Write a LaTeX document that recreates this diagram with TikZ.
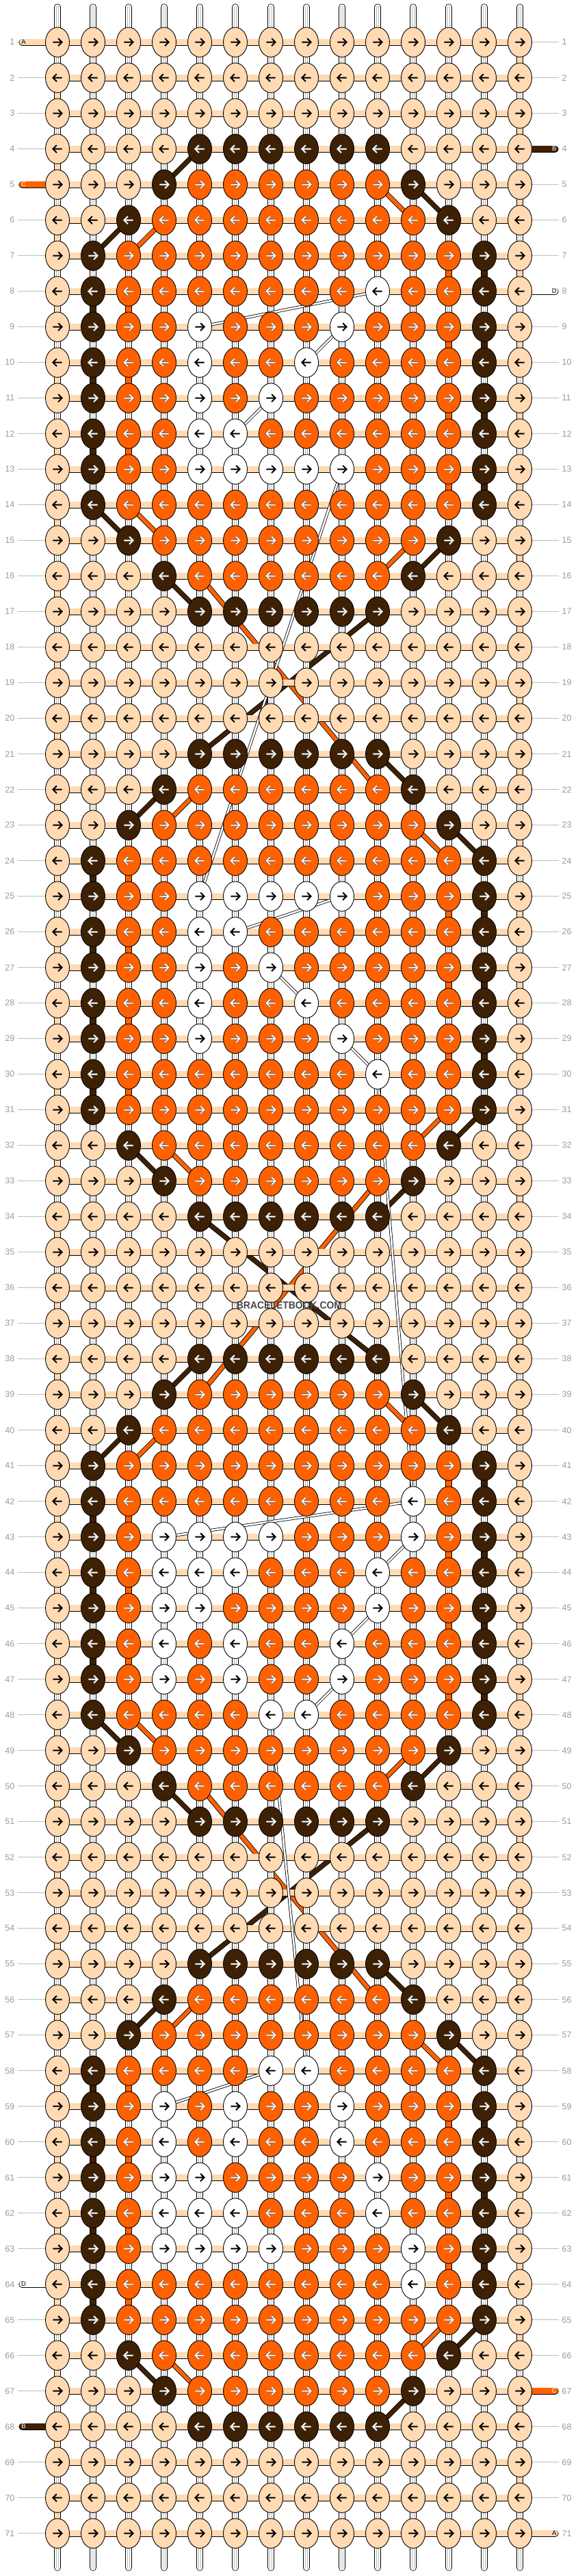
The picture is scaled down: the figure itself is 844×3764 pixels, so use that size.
\documentclass[tikz,border=0pt]{standalone}
\usepackage{fontspec}
\setmainfont{Liberation Sans}
\usetikzlibrary{shapes.geometric}
\definecolor{cP}{HTML}{FFDAB3}
\definecolor{cB}{HTML}{3E2104}
\definecolor{cO}{HTML}{FF6100}
\definecolor{cW}{HTML}{FFFFFF}
\definecolor{numgray}{HTML}{9A9A9A}
\definecolor{linegray}{HTML}{BDBDBD}

\makeatletter
\newcommand\drawknot[3]{%
  \pgfmathsetmacro\kxx{84+52*(#2-1)}%
  \pgfmathsetmacro\kyy{61.67+52*(#1-1)}%
  \pgfmathsetmacro\kdd{2*mod(#1,2)-1}%
  \pgfmathsetmacro\kxa{\kxx-6.6*\kdd}%
  \pgfmathsetmacro\kxb{\kxx+6.6*\kdd}%
  \pgfmathsetmacro\kxs{\kxx+5.8*\kdd}%
  \pgfmathsetmacro\kxh{\kxx+1.1*\kdd}%
  \node[knot, fill=c#3] (k-#1-#2) at (p-#1-#2) {};%
  \draw[arr#3] (\kxa,\kyy) -- (\kxs,\kyy) (\kxh,\kyy-5.5) -- (\kxb,\kyy) -- (\kxh,\kyy+5.5);%
}
\newcommand\knotrow[2]{\def\kr@row{#1}\def\kr@col{0}\edef\kr@tmp{#2}\expandafter\kr@parse\kr@tmp\relax}
\def\kr@parse#1{\ifx\relax#1\else\pgfmathtruncatemacro\kr@col{\kr@col+1}\drawknot{\kr@row}{\kr@col}{#1}\expandafter\kr@parse\fi}
\makeatother

\newcommand\lstub[4]{%
  \pgfmathsetmacro\kyy{61.67+52*(#1-1)}%
  \coordinate (sl-#1) at (32.5,\kyy);%
  \draw[stub=#2] (sl-#1) -- (p-#1-1);%
  \node[stublbl, text=#4] (slt-#1) at (34.5,\kyy) {#3};%
}
\newcommand\rstub[4]{%
  \pgfmathsetmacro\kyy{61.67+52*(#1-1)}%
  \coordinate (sr-#1) at (811.5,\kyy);%
  \draw[stub=#2] (p-#1-14) -- (sr-#1);%
  \node[stublbl, text=#4] (srt-#1) at (810.3,\kyy) {#3};%
}

\begin{document}
\begin{tikzpicture}[x=1pt,y=-1pt,
  knot/.style={ellipse, draw=black, line width=0.9pt, minimum width=35pt, minimum height=43.4pt, inner sep=0pt, outer sep=0pt},
  arrP/.style={draw=black, line width=2pt, line join=miter},
  arrW/.style={arrP},
  arrB/.style={draw=white, line width=1.7pt, line join=miter, preaction={draw=black!65, line width=2.9pt, line join=miter}},
  arrO/.style={arrB},
  hconn/.style={draw=black, line width=0.8pt, double=cP, double distance=8.6pt},
  vconn/.style={draw=black, line width=0.8pt, double=white, double distance=8.6pt},
  vinner/.style={draw=black!28, line width=0.55pt, double=white, double distance=2.2pt},
  vcol/.style={draw=black, line width=0.8pt, double=#1, double distance=8.6pt},
  diag/.style={draw=black, line width=0.85pt, double=#1, double distance=5.6pt},
  wstrand/.style={draw=black, line width=0.8pt, double=white, double distance=2.6pt},
  stub/.style={draw=black, line width=0.8pt, double=#1, double distance=8.6pt, line cap=round},
  rowline/.style={draw=linegray, line width=0.8pt},
  numlbl/.style={text=numgray, font=\fontsize{12.5}{13}\selectfont, inner sep=0pt},
  stublbl/.style={font=\fontsize{9.5}{10}\selectfont, inner sep=0pt}]
\useasboundingbox (0,0) rectangle (844,3764);
\fill[white] (0,0) rectangle (844,3764);

% knot centres
\foreach \r in {1,...,71}{\foreach \c in {1,...,14}{%
  \coordinate (p-\r-\c) at ({84+52*(\c-1)},{61.67+52*(\r-1)});}}

% row numbers and guide lines
\foreach \r in {1,...,71}{%
  \pgfmathsetmacro\kyy{61.67+52*(\r-1)}%
  \coordinate (la-\r) at (26,\kyy);
  \coordinate (lb-\r) at (817,\kyy);
  \draw[rowline] (la-\r) -- (p-\r-1);
  \draw[rowline] (p-\r-14) -- (lb-\r);
  \node[numlbl, anchor=east] (nl-\r) at (21.5,\kyy) {\r};
  \node[numlbl, anchor=west] (nr-\r) at (821.5,\kyy) {\r};
}

% brown diagonals
\foreach \ua/\ub/\uc/\ud in {4/5/5/4, 6/3/7/2, 5/11/6/12, 14/2/15/3, 16/4/17/5, 15/12/16/11,
  17/10/21/5, 21/10/22/11, 22/4/23/3, 23/12/24/13, 32/3/33/4, 31/13/32/12, 33/11/34/10,
  34/5/38/10, 38/5/39/4, 39/11/40/12, 40/3/41/2, 48/2/49/3, 50/4/51/5, 49/12/50/11,
  51/10/55/5, 55/10/56/11, 56/4/57/3, 57/12/58/13, 66/3/67/4, 65/13/66/12, 67/11/68/10}
  {\draw[diag=cB] (p-\ua-\ub) -- (p-\uc-\ud);}
% orange diagonals
\foreach \ua/\ub/\uc/\ud in {6/4/7/3, 5/10/6/11, 14/3/15/4, 15/11/16/10, 16/5/22/10,
  22/5/23/4, 23/11/24/12, 32/4/33/5, 31/12/32/11, 33/10/39/5, 39/10/40/11, 40/4/41/3,
  48/3/49/4, 49/11/50/10, 50/5/56/10, 56/5/57/4, 57/11/58/12, 66/4/67/5, 65/12/66/11}
  {\draw[diag=cO] (p-\ua-\ub) -- (p-\uc-\ud);}

% warp strings at top and bottom
\foreach \c in {1,...,14}{%
  \pgfmathsetmacro\kxx{84+52*(\c-1)}%
  \coordinate (t-\c) at (\kxx,10.5);
  \coordinate (b-\c) at (\kxx,3751.5);
  \draw[vconn, line cap=round] (t-\c) -- (p-1-\c);
  \draw[vinner, line cap=round] (t-\c) -- (p-1-\c);
  \draw[vconn, line cap=round] (p-71-\c) -- (b-\c);
  \draw[vinner, line cap=round] (p-71-\c) -- (b-\c);
}

% vertical connectors
\foreach \r in {1,...,70}{%
  \pgfmathtruncatemacro\rnext{\r+1}%
  \foreach \c in {1,...,14}{%
    \draw[vconn] (p-\r-\c) -- (p-\rnext-\c);
    \draw[vinner] (p-\r-\c) -- (p-\rnext-\c);}}
\foreach \r in {2,4,...,70}{\pgfmathtruncatemacro\rnext{\r+1}\draw[vcol=cP] (p-\r-1) -- (p-\rnext-1);}
\foreach \r in {1,3,...,69}{\pgfmathtruncatemacro\rnext{\r+1}\draw[vcol=cP] (p-\r-14) -- (p-\rnext-14);}
\foreach \r in {8,10,12,24,26,28,30,42,44,46,58,60,62,64}{%
  \pgfmathtruncatemacro\rnext{\r+1}%
  \draw[vcol=cB] (p-\r-2) -- (p-\rnext-2);
  \draw[vcol=cO] (p-\r-3) -- (p-\rnext-3);}
\foreach \r in {7,9,11,13,25,27,29,41,43,45,47,59,61,63}{%
  \pgfmathtruncatemacro\rnext{\r+1}%
  \draw[vcol=cO] (p-\r-12) -- (p-\rnext-12);
  \draw[vcol=cB] (p-\r-13) -- (p-\rnext-13);}

% horizontal connectors
\foreach \r in {1,...,71}{\foreach \c in {1,...,13}{%
  \pgfmathtruncatemacro\cnext{\c+1}%
  \draw[hconn] (p-\r-\c) -- (p-\r-\cnext);}}

% thread ends
\lstub{1}{cP}{A}{black}
\lstub{5}{cO}{C}{white}
\lstub{64}{cW}{D}{black}
\lstub{68}{cB}{B}{white}
\rstub{4}{cB}{B}{white}
\rstub{8}{cW}{D}{black}
\rstub{67}{cO}{C}{white}
\rstub{71}{cP}{A}{black}

% white strands
\foreach \ua/\ub/\uc/\ud in {8/10/9/5, 9/9/10/8, 11/7/12/6, 13/9/25/5, 25/9/26/6, 27/7/28/8,
  29/9/30/10, 30/10/42/11, 42/11/43/4, 43/11/44/10, 45/10/46/9, 47/9/48/8, 48/7/58/8, 58/7/59/4}
  {\draw[wstrand] (p-\ua-\ub) -- (p-\uc-\ud);}

% knots
\foreach \rs [count=\r] in {
PPPPPPPPPPPPPP,PPPPPPPPPPPPPP,PPPPPPPPPPPPPP,PPPPBBBBBBPPPP,PPPBOOOOOOBPPP,
PPBOOOOOOOOBPP,PBOOOOOOOOOOBP,PBOOOOOOOWOOBP,PBOOWOOOWOOOBP,PBOOWOOWOOOOBP,
PBOOWOWOOOOOBP,PBOOWWOOOOOOBP,PBOOWWWWWOOOBP,PBOOOOOOOOOOBP,PPBOOOOOOOOBPP,
PPPBOOOOOOBPPP,PPPPBBBBBBPPPP,PPPPPPPPPPPPPP,PPPPPPPPPPPPPP,PPPPPPPPPPPPPP,
PPPPBBBBBBPPPP,PPPBOOOOOOBPPP,PPBOOOOOOOOBPP,PBOOOOOOOOOOBP,PBOOWWWWWOOOBP,
PBOOWWOOOOOOBP,PBOOWOWOOOOOBP,PBOOWOOWOOOOBP,PBOOWOOOWOOOBP,PBOOOOOOOWOOBP,
PBOOOOOOOOOOBP,PPBOOOOOOOOBPP,PPPBOOOOOOBPPP,PPPPBBBBBBPPPP,PPPPPPPPPPPPPP,
PPPPPPPPPPPPPP,PPPPPPPPPPPPPP,PPPPBBBBBBPPPP,PPPBOOOOOOBPPP,PPBOOOOOOOOBPP,
PBOOOOOOOOOOBP,PBOOOOOOOOWOBP,PBOWWWWOOOWOBP,PBOWWWOOOWOOBP,PBOWWOOOOWOOBP,
PBOWOWOOWOOOBP,PBOWOWOOWOOOBP,PBOOOOWWOOOOBP,PPBOOOOOOOOBPP,PPPBOOOOOOBPPP,
PPPPBBBBBBPPPP,PPPPPPPPPPPPPP,PPPPPPPPPPPPPP,PPPPPPPPPPPPPP,PPPPBBBBBBPPPP,
PPPBOOOOOOBPPP,PPBOOOOOOOOBPP,PBOOOOWWOOOOBP,PBOWOWOOWOOOBP,PBOWOWOOWOOOBP,
PBOWWOOOOWOOBP,PBOWWWOOOWOOBP,PBOWWWWOOOWOBP,PBOOOOOOOOWOBP,PBOOOOOOOOOOBP,
PPBOOOOOOOOBPP,PPPBOOOOOOBPPP,PPPPBBBBBBPPPP,PPPPPPPPPPPPPP,PPPPPPPPPPPPPP,
PPPPPPPPPPPPPP}{\knotrow{\r}{\rs}}

% watermark
\node[font=\bfseries\fontsize{15}{15}\selectfont, text=black!72, xscale=0.93, inner sep=0pt] (wm) at (423,1907) {BRACELETBOOK.COM};
\end{tikzpicture}
\end{document}
